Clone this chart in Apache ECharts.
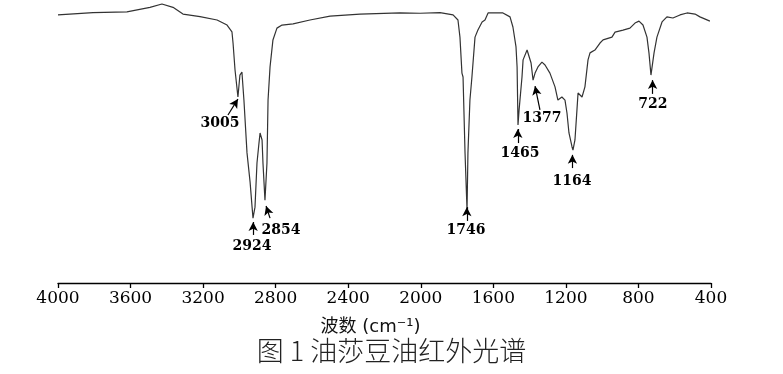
<!DOCTYPE html>
<html>
<head>
<meta charset="utf-8">
<script src="https://cdn.jsdelivr.net/npm/echarts@6/dist/echarts.min.js"></script>
<style>
html,body{margin:0;padding:0;background:#fff;}
#c{width:783px;height:374px;}
</style>
</head>
<body>
<div id="c"></div>
<script>
// Wavenumber (cm-1) and transmittance (%)
var wavenumbers = [4000,3807,3620,3493,3427,3366,3311,3217,3123,3068,3041,3035,3024,3013,3008,2997,2986,2975,2958,2941,2930,2925,2914,2903,2892,2886,2875,2870,2859,2848,2842,2831,2815,2793,2765,2704,2611,2500,2335,2115,2004,1894,1822,1795,1784,1773,1767,1756,1745,1740,1729,1718,1701,1685,1662,1646,1629,1547,1508,1492,1475,1469,1464,1458,1442,1436,1425,1414,1403,1392,1381,1370,1354,1332,1315,1288,1260,1244,1222,1205,1194,1183,1166,1161,1150,1139,1133,1111,1095,1078,1067,1040,1012,995,946,929,885,847,819,797,775,753,742,731,714,698,670,643,610,571,532,488,461,406];
var transmittance = [95.4,96.2,96.5,98.1,99.3,98.1,95.7,94.8,93.6,91.8,89.4,85.4,75.8,75.1,66.2,74.0,75.1,65.1,46.3,35.9,27.0,23.1,27.0,42.7,49.8,53.4,50.9,42.7,29.5,42.7,65.1,76.9,86.5,90.7,91.8,92.2,93.6,95.0,95.7,96.1,96.0,96.2,95.4,93.6,87.5,74.7,73.3,46.3,26.0,46.3,65.1,73.3,87.5,90.0,92.9,93.6,96.1,96.1,94.7,91.1,84.0,76.9,56.2,61.6,73.3,79.4,80.1,82.9,82.2,78.3,72.2,74.7,76.9,78.6,77.6,74.7,69.8,65.1,66.2,65.1,60.5,53.4,48.4,47.3,50.9,61.6,67.6,66.2,69.8,79.4,81.9,82.9,85.4,86.5,87.5,89.3,90.0,90.7,92.5,93.2,91.8,87.5,81.9,74.0,81.9,87.5,92.9,94.7,94.3,95.4,96.1,95.7,94.7,93.2];

// x-axis tick labels
var tickLabels = [4000,3600,3200,2800,2400,2000,1600,1200,800,400];

// Peak annotations: label text, label anchor (wn, T), arrow tail and head (wn, T)
var peakNames   = ['3005','2924','2854','1746','1465','1377','1164','722'];
var labelWn     = [3107, 2930, 2771, 1751, 1453, 1332, 1166, 720];
var labelT      = [56.9, 13.2, 18.9, 18.9, 46.3, 58.7, 36.3, 63.7];
var arrowFromWn = [3063, 2924, 2831, 1746, 1465, 1343, 1164, 722];
var arrowFromT  = [59.8, 17.1, 23.1, 22.1, 49.8, 61.6, 40.9, 67.3];
var arrowToWn   = [3008, 2924, 2853, 1746, 1465, 1370, 1164, 722];
var arrowToT    = [65.5, 21.7, 27.4, 27.0, 54.8, 70.1, 45.6, 72.2];

var lineData = wavenumbers.map(function(w,i){return [w, transmittance[i]];});
var arrows = peakNames.map(function(n,i){
  return [{coord:[arrowFromWn[i], arrowFromT[i]], symbol:'none'},
          {coord:[arrowToWn[i], arrowToT[i]], symbol:'arrow', symbolSize:[7,9]}];
});
var labels = peakNames.map(function(n,i){
  return {name:n, coord:[labelWn[i], labelT[i]]};
});

var chart = echarts.init(document.getElementById('c'), null, {renderer:'canvas'});
chart.setOption({
  animation:false,
  backgroundColor:'#fff',
  title:{
    text:'图 1 油莎豆油红外光谱',
    left:'center', bottom:5,
    textStyle:{fontFamily:'"Noto Sans CJK SC"', fontSize:27, fontWeight:300, color:'#222'}
  },
  grid:{left:58, right:72, top:2, bottom:91},
  xAxis:{
    type:'value', inverse:true, min:400, max:4000, interval:400,
    name:'波数 (cm⁻¹)', nameLocation:'middle', nameGap:35,
    nameTextStyle:{fontFamily:'"DejaVu Sans", "Noto Sans CJK SC"', fontSize:18, color:'#111', padding:[0,28,0,0]},
    axisLine:{show:true, lineStyle:{color:'#000', width:1.3}},
    axisTick:{show:true, inside:false, length:5, lineStyle:{color:'#000', width:1.3}},
    axisLabel:{
      margin:7, color:'#000', fontFamily:'"DejaVu Serif"', fontSize:17,
      formatter:function(v){ return tickLabels.indexOf(v) >= 0 ? String(v) : ''; }
    },
    splitLine:{show:false}
  },
  yAxis:{
    type:'value', min:0, max:100, show:false, splitLine:{show:false}
  },
  series:[{
    type:'line', data:lineData, symbol:'none', smooth:false,
    lineStyle:{color:'#333', width:1.2},
    markLine:{
      silent:true, symbol:['none','arrow'], symbolSize:[7,9],
      lineStyle:{color:'#000', width:1.2, type:'solid'},
      itemStyle:{color:'#000'},
      label:{show:false},
      data:arrows
    },
    markPoint:{
      silent:true, symbol:'circle', symbolSize:1,
      itemStyle:{color:'rgba(0,0,0,0)'},
      label:{show:true, position:'inside', formatter:'{b}', color:'#000',
             fontFamily:'"DejaVu Serif"', fontSize:14, fontWeight:'bold'},
      data:labels
    }
  }]
});
</script>
</body>
</html>
